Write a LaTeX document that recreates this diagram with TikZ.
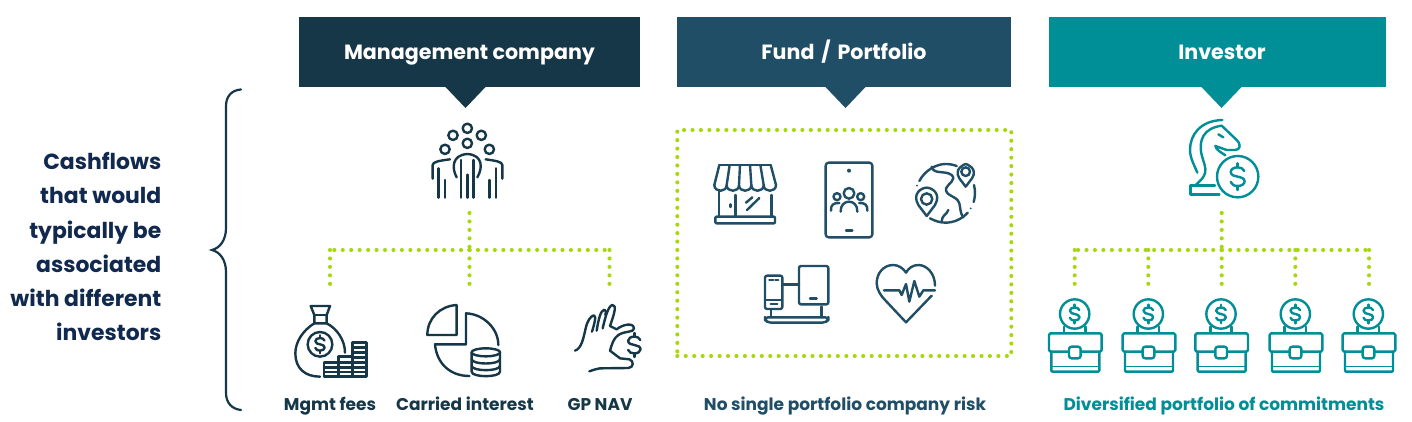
\documentclass[tikz,border=0pt]{standalone}
\usepackage{fontspec}
\setmainfont{Poppins}[BoldFont={Poppins Bold}]
\definecolor{cdark}{HTML}{163747}
\definecolor{cblue}{HTML}{1F4E66}
\definecolor{cteal}{HTML}{008E97}
\definecolor{cnavy}{HTML}{12294F}
\definecolor{cdot}{HTML}{A6D80E}
\tikzset{
  banner/.style={minimum height=70pt,inner sep=0pt,text height=20pt,text depth=4pt,text=white,font=\bfseries\fontsize{20.6}{25}\selectfont},
  sideline/.style={anchor=base east,inner sep=0pt,text=cnavy,font=\bfseries\fontsize{21.9}{34}\selectfont},
  dotline/.style={draw=cdot,line width=4.1pt,line cap=round,dash pattern=on 0pt off 8.45pt},
  caption/.style={anchor=base,inner sep=0pt,font=\bfseries\fontsize{17}{18}\selectfont},
  ico/.style={line width=2.4pt,line cap=round,line join=round},
  zoomed/.style={x=0.33333pt,y=-0.33333pt},
  dollarmark/.pic={
    \draw (.5,-.42) .. controls (.42,-.62) and (.2,-.7) .. (0,-.7) .. controls (-.3,-.7) and (-.52,-.55) .. (-.52,-.35) .. controls (-.52,-.1) and (-.2,-.03) .. (0,0) .. controls (.25,.05) and (.52,.12) .. (.52,.35) .. controls (.52,.55) and (.3,.7) .. (0,.7) .. controls (-.25,.7) and (-.45,.62) .. (-.52,.4);
    \draw (0,-.7)--(0,-1) (0,.7)--(0,1);
  },
  casecoin/.pic={
    \draw (0,642) circle (44);
    \draw (-32,695)--(-32,680) (32,680)--(32,695);
    \draw[rounded corners=1.5pt] (-77,700) rectangle (81,755);
    \draw[rounded corners=1pt] (-70,755)--(-70,815)--(74,815)--(74,755);
    \draw[line width=1.6pt] (-70,800)--(74,800);
    \draw[rounded corners=2.5pt,fill=white] (-17,740) rectangle (18,775);
    \pic[scale=28] at (0,642) {dollarmark};
  }
}
\begin{document}
\begin{tikzpicture}[x=1pt,y=-1pt]
\useasboundingbox (0,0) rectangle (1412,422);
\fill[white] (0,0) rectangle (1412,422);

% banners
\node[banner,fill=cdark,minimum width=341pt] (mgmt) at (469.5,52) {Management company};
\node[banner,fill=cblue,minimum width=334pt] (fund) at (844,52) {Fund\hspace{2.5pt} / \hspace{2.5pt}Portfolio};
\node[banner,fill=cteal,minimum width=337pt] (inv) at (1217.5,52) {\hspace*{9pt}Investor};
\fill[cdark] (445,86.5)--(486,86.5)--(465.5,108)--cycle;
\fill[cblue] (825,86.5)--(866,86.5)--(845.5,108)--cycle;
\fill[cteal] (1201,86.5)--(1242,86.5)--(1221.5,108)--cycle;

% left text and brace
\node[sideline] (side1) at (161.5,170) {Cashflows};
\node[sideline] (side2) at (161.5,204) {that would};
\node[sideline] (side3) at (161.5,238) {typically be};
\node[sideline] (side4) at (161.5,272) {associated};
\node[sideline] (side5) at (161.5,306) {with different};
\node[sideline] (side6) at (161.5,340) {investors};
\draw[cdark,line width=2.2pt,line cap=round] (241,89.5) .. controls (232,90) and (226,96) .. (226,106) -- (226,228) .. controls (226,240) and (220,248) .. (212,250) .. controls (220,252) and (226,260) .. (226,272) -- (226,393) .. controls (226,403) and (232,409) .. (241,410);

% connectors: management company
\coordinate (m0) at (469.5,213);
\coordinate (mj) at (469.5,250);
\coordinate (ml) at (330,250);
\coordinate (mr) at (609.5,250);
\coordinate (m1) at (330,288);
\coordinate (m2) at (469.5,288);
\coordinate (m3) at (609.5,288);
\draw[dotline] (m0)--(mj);
\draw[dotline] (mj)--(ml);
\draw[dotline] (mj)--(mr);
\draw[dotline] (ml)--(m1);
\draw[dotline] (mj)--(m2);
\draw[dotline] (mr)--(m3);

% fund box
\node[dotline,minimum width=334pt,minimum height=226pt,inner sep=0pt] (fundbox) at (844.3,243) {};

% connectors: investor
\coordinate (i0) at (1221.7,213);
\coordinate (ij) at (1221.7,250);
\coordinate (il) at (1074.7,250);
\coordinate (ir) at (1369,250);
\coordinate (ib) at (1148.3,250);
\coordinate (id) at (1295.3,250);
\coordinate (i1) at (1074.7,288);
\coordinate (i2) at (1148.3,288);
\coordinate (i3) at (1221.7,288);
\coordinate (i4) at (1295.3,288);
\coordinate (i5) at (1369,288);
\draw[dotline] (i0)--(ij);
\draw[dotline] (ij)--(il);
\draw[dotline] (ij)--(ir);
\draw[dotline] (il)--(i1);
\draw[dotline] (ib)--(i2);
\draw[dotline] (ij)--(i3);
\draw[dotline] (id)--(i4);
\draw[dotline] (ir)--(i5);

% captions
\node[caption,text=cdark] (c1) at (330,410) {Mgmt fees};
\node[caption,text=cdark] (c2) at (465,410) {Carried interest};
\node[caption,text=cdark] (c3) at (600,410) {GP NAV};
\node[caption,text=cblue] (c4) at (845,410) {No single portfolio company risk};
\node[caption,text=cteal] (c5) at (1224,410) {Diversified portfolio of commitments};

% people and pie (origin 280,100)
\begin{scope}[shift={(280,100)},zoomed,ico,draw=cdark,cdark]
  \foreach \a/\b in {562/85,519/106,604/106,562/130,495/148,628/148} \draw (\a,\b) circle (14);
  \draw (530,232) .. controls (515,205) and (515,165) .. (562,162) .. controls (610,165) and (608,205) .. (592,232);
  \draw (543,180)--(543,293) (580,180)--(580,293) (562,224)--(562,293);
  \draw (458,236)--(458,195) .. controls (458,185) and (480,182) .. (510,178);
  \draw (475,205)--(475,293) (495,240)--(495,293);
  \draw (667,236)--(667,195) .. controls (667,185) and (645,182) .. (617,178);
  \draw (648,205)--(648,293) (628,240)--(628,293);
  % pie
  \draw (530,615)--(530,705)--(442,705) .. controls (442,655) and (480,618) .. (530,615);
  \draw (655,735) .. controls (655,685) and (610,642) .. (558,640)--(558,733)--(465,733) .. controls (470,790) and (510,828) .. (568,828);
  \draw[fill=white] (575,757)--(575,815) .. controls (575,833) and (660,833) .. (660,815)--(660,757);
  \draw[fill=white] (617.5,757) ellipse (43 and 12);
  \draw (575,777) .. controls (575,795) and (660,795) .. (660,777);
  \draw (575,797) .. controls (575,815) and (660,815) .. (660,797);
\end{scope}

% money bag (origin 280,300)
\begin{scope}[shift={(280,300)},zoomed,ico,draw=cdark,cdark]
  \draw (92,18) -- (150,18) -- (140,45) -- (140,70) -- (103,70) -- (103,45) -- cycle;
  \draw (103,45)--(140,45);
  \draw (103,70) .. controls (70,90) and (46,125) .. (46,160) .. controls (46,205) and (75,230) .. (120,230);
  \draw (140,70) .. controls (170,85) and (195,120) .. (195,158);
  \draw (120,133) circle (37);
  \pic[scale=27] at (120,133) {dollarmark};
  \draw (132,188) rectangle (175,230);
  \draw (175,170) rectangle (217,230);
  \draw (217,128) rectangle (260,230);
  \draw (132,202)--(260,202) (132,216)--(260,216) (175,188)--(260,188) (217,173)--(260,173) (217,158)--(260,158) (217,143)--(260,143);
\end{scope}

% hand (origin 570,300)
\begin{scope}[shift={(570,300)},zoomed,ico,draw=cdark,cdark]
  \draw (15,152) .. controls (35,145) and (40,115) .. (47,85) .. controls (52,62) and (62,48) .. (72,46) .. controls (80,48) and (72,75) .. (66,95);
  \draw (80,92) .. controls (85,60) and (92,30) .. (103,29) .. controls (110,30) and (108,38) .. (106,45);
  \draw (98,85) .. controls (106,50) and (115,18) .. (127,15) .. controls (140,16) and (135,35) .. (120,78) -- (140,88) .. controls (155,75) and (190,65) .. (192,85) .. controls (192,98) and (165,92) .. (145,105) .. controls (130,115) and (125,135) .. (120,152) -- (150,175) -- (178,178) .. controls (192,182) and (192,203) .. (175,204) -- (90,205) .. controls (80,206) and (70,210) .. (58,214);
  \pic[scale=36] at (193,135) {dollarmark};
\end{scope}

% portfolio icons (origin 670,120)
\begin{scope}[shift={(670,120)},zoomed,ico,draw=cblue,cblue]
  % shop
  \draw (148,135)--(302,135);
  \draw (148,135)--(133,195) (179,135)--(170,195) (210,135)--(207,195) (240,135)--(244,195) (271,135)--(281,195) (302,135)--(318,195);
  \draw (133,195) .. controls (133,218) and (170,218) .. (170,195) .. controls (170,218) and (207,218) .. (207,195) .. controls (207,218) and (244,218) .. (244,195) .. controls (244,218) and (281,218) .. (281,195) .. controls (281,218) and (318,218) .. (318,195);
  \draw (147,213)--(147,290) (304,225)--(304,290) (197,225)--(197,290);
  \draw[rounded corners=1pt] (136,290) rectangle (315,310);
  \draw (181,253)--(181,261);
  \draw (228,248)--(247,232) (231,270)--(268,234);
  % phone
  \draw[rounded corners=3pt] (467,128) rectangle (607,352);
  \fill (537,152) circle (6);
  \draw (528,332)--(547,332);
  \draw (537,220) circle (16);
  \draw (512,275) .. controls (510,235) and (564,235) .. (562,275);
  \draw (501,230) circle (10.5);
  \draw (483,272) .. controls (482,255) and (490,248) .. (508,249);
  \draw (572,230) circle (10.5);
  \draw (592,272) .. controls (593,255) and (585,248) .. (567,249);
  % globe
  \draw (748,183) .. controls (765,150) and (800,132) .. (827,132) .. controls (838,132) and (850,134) .. (860,138);
  \draw (912,195) .. controls (917,215) and (915,232) .. (911,246);
  \draw (893,278) .. controls (875,298) and (850,308) .. (827,308) .. controls (810,308) and (795,303) .. (780,295);
  \fill (741,197) circle (3) (902,265) circle (3);
  \draw (785,140) .. controls (790,165) and (825,150) .. (845,165) .. controls (860,180) and (835,190) .. (828,205) .. controls (825,230) and (860,225) .. (868,250) .. controls (872,265) and (870,280) .. (880,292);
  \draw (835,270) .. controls (830,285) and (815,285) .. (815,305);
  \draw[fill=white] (887,200) -- (868,175) .. controls (850,145) and (885,132) .. (887,132) .. controls (890,132) and (925,145) .. (906,175) -- cycle;
  \draw (887,155) circle (13);
  \draw[fill=white] (770,288) -- (745,255) .. controls (725,220) and (755,203) .. (770,203) .. controls (785,203) and (815,220) .. (795,255) -- cycle;
  \draw (770,237) circle (17);
  % devices
  \draw[rounded corners=2pt] (285,467) rectangle (337,567);
  \draw (285,540)--(337,540);
  \draw (298,480)--(310,480) (316,480)--(325,480) (302,552)--(322,552);
  \draw[rounded corners=2pt] (387,438) rectangle (475,553);
  \draw (420,536)--(440,536);
  \draw (337,494)--(387,494);
  \draw[rounded corners=3pt] (285,592)--(475,592)--(475,600)--(465,608)--(295,608)--(285,600)--cycle;
  \draw (303,567)--(303,592) (455,560)--(455,592);
  % heart
  \draw (795,497) .. controls (795,460) and (770,435) .. (745,435) .. controls (728,435) and (715,445) .. (708,458) .. controls (700,445) and (685,435) .. (670,435) .. controls (640,435) and (620,460) .. (620,490) .. controls (620,510) and (635,530) .. (645,540) -- (708,607) -- (785,527);
  \draw (642,511)--(688,511)--(695,525)--(708,492)--(718,545)--(733,483)--(748,530)--(760,511)--(795,511);
\end{scope}

% investor icons (origin 1040,100)
\begin{scope}[shift={(1040,100)},zoomed,ico,draw=cteal,cteal]
  % knight
  \draw (547,60) .. controls (480,62) and (450,105) .. (450,150) .. controls (450,175) and (465,200) .. (472,218);
  \draw (545,77) .. controls (490,85) and (475,120) .. (485,165) .. controls (490,185) and (500,205) .. (495,220) .. controls (490,235) and (478,245) .. (466,256);
  \draw (545,77) -- (590,120) .. controls (605,135) and (600,150) .. (585,150) -- (560,150) -- (526,138) .. controls (528,150) and (545,158) .. (556,166);
  \draw (535,103)--(550,112);
  \draw (525,256)--(452,256)--(452,284)--(538,284);
  \draw (593,230) circle (62);
  \pic[scale=40] at (593,230) {dollarmark};
  % briefcases
  \pic at (104,0) {casecoin};
  \pic at (325,0) {casecoin};
  \pic at (543,0) {casecoin};
  \pic at (766,0) {casecoin};
  \pic at (985,0) {casecoin};
\end{scope}
\end{tikzpicture}
\end{document}
